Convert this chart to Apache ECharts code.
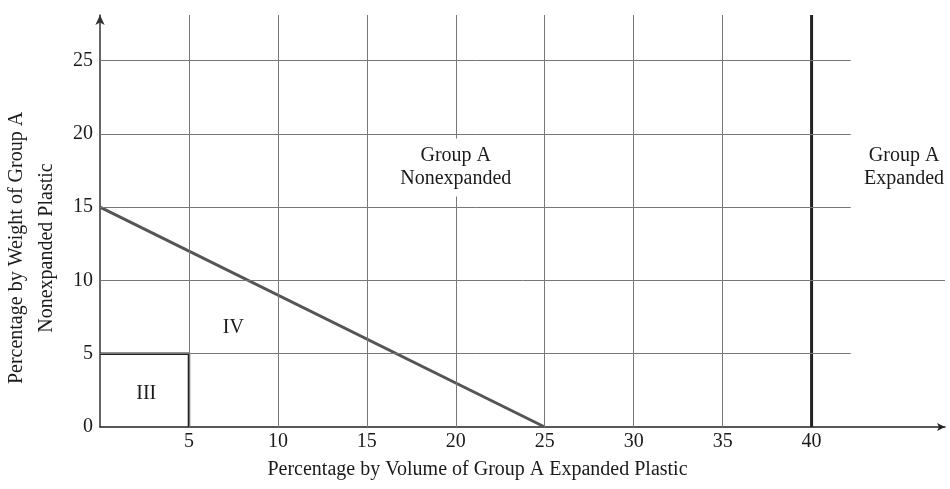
<!DOCTYPE html>
<html>
<head>
<meta charset="utf-8">
<script src="https://cdn.jsdelivr.net/npm/echarts@6/dist/echarts.min.js"></script>
<style>html,body{margin:0;padding:0;background:#fff}#c{width:950px;height:489px}</style>
</head>
<body>
<div id="c"></div>
<script>
// ---- data ----
const xTickValues = [5, 10, 15, 20, 25, 30, 35, 40];
const yTickValues = [0, 5, 10, 15, 20, 25];
const gridXValues = [5, 10, 15, 20, 25, 30, 35];
const gridYShort = [5, 15, 20, 25];
const gridYLong = [10];
const limitLine = [[0, 15], [25, 0]];
const regionIII = [[0, 5], [5, 5], [5, 0]];
const expandedBoundaryX = 40;
const regionLabels = [
  { name: 'Group A\nNonexpanded', x: 20.0, y: 17.7 },
  { name: 'Group A\nExpanded', x: 45.2, y: 17.7 },
  { name: 'IV', x: 7.5, y: 6.8 },
  { name: 'III', x: 2.6, y: 2.3 }
];
const xTitle = 'Percentage by Volume of Group A Expanded Plastic';
const yTitle = 'Percentage by Weight of Group A\nNonexpanded Plastic';

const X_MAX = 47.5, Y_MAX = 28.1, GRID_END = 42.2;
const FONT = '"Liberation Serif", "DejaVu Serif", serif';
const TXT = '#1a1a1a';

const vLines = gridXValues.map(v => [{ coord: [v, 0] }, { coord: [v, Y_MAX] }]);
const hLines = gridYShort.map(v => [{ coord: [0, v] }, { coord: [GRID_END, v] }])
  .concat(gridYLong.map(v => [{ coord: [0, v] }, { coord: [X_MAX, v] }]));

const chart = echarts.init(document.getElementById('c'));
chart.setOption({
  animation: false,
  backgroundColor: '#fff',
  grid: { left: 100, right: 5, top: 15, bottom: 62 },
  xAxis: {
    type: 'value', min: 0, max: X_MAX, interval: 5,
    name: xTitle, nameLocation: 'middle', nameGap: 33,
    nameTextStyle: { fontFamily: FONT, fontSize: 20, color: TXT, padding: [0, 90, 0, 0] },
    axisLine: { lineStyle: { color: '#222', width: 1.5 }, symbol: ['none', 'arrow'], symbolSize: [6, 8] },
    axisTick: { show: false },
    splitLine: { show: false },
    axisLabel: {
      fontFamily: FONT, fontSize: 20, color: TXT, margin: 5,
      formatter: v => xTickValues.indexOf(v) >= 0 ? String(v) : ''
    }
  },
  yAxis: {
    type: 'value', min: 0, max: Y_MAX, interval: 5,
    axisLine: { lineStyle: { color: '#333', width: 1.5 }, symbol: ['none', 'arrow'], symbolSize: [7, 10] },
    axisTick: { show: false },
    splitLine: { show: false },
    axisLabel: {
      fontFamily: FONT, fontSize: 20, color: TXT, margin: 7,
      showMaxLabel: false,
      formatter: v => yTickValues.indexOf(v) >= 0 ? String(v) : ''
    }
  },
  graphic: [{
    type: 'text', x: 32, y: 248, rotation: Math.PI / 2,
    style: { text: yTitle, fontFamily: FONT, fontSize: 20, fill: TXT, align: 'center', verticalAlign: 'middle', lineHeight: 30 }
  }],
  series: [
    {
      type: 'line', data: [], silent: true, z: 1,
      markLine: {
        silent: true, symbol: ['none', 'none'], label: { show: false },
        lineStyle: { color: '#777', width: 1, type: 'solid' },
        data: vLines.concat(hLines)
      }
    },
    {
      type: 'line', data: limitLine, symbol: 'none', z: 3,
      lineStyle: { color: '#555', width: 3 }
    },
    {
      type: 'line', data: regionIII, symbol: 'none', z: 3,
      lineStyle: { color: '#222', width: 2.5 }
    },
    {
      type: 'line', data: [[expandedBoundaryX, 0], [expandedBoundaryX, Y_MAX]], symbol: 'none', z: 3,
      lineStyle: { color: '#222', width: 3 }
    },
    {
      type: 'scatter', symbolSize: 0, z: 5, silent: true,
      itemStyle: { color: '#fff', opacity: 0 },
      data: regionLabels.map(d => ({ name: d.name, value: [d.x, d.y] })),
      label: {
        show: true, position: 'inside', formatter: p => p.name,
        fontFamily: FONT, fontSize: 20, color: TXT, lineHeight: 23,
        textBorderWidth: 0, textBorderColor: 'transparent', opacity: 1,
        backgroundColor: '#fff', padding: [6, 4]
      }
    }
  ]
});
</script>
</body>
</html>
